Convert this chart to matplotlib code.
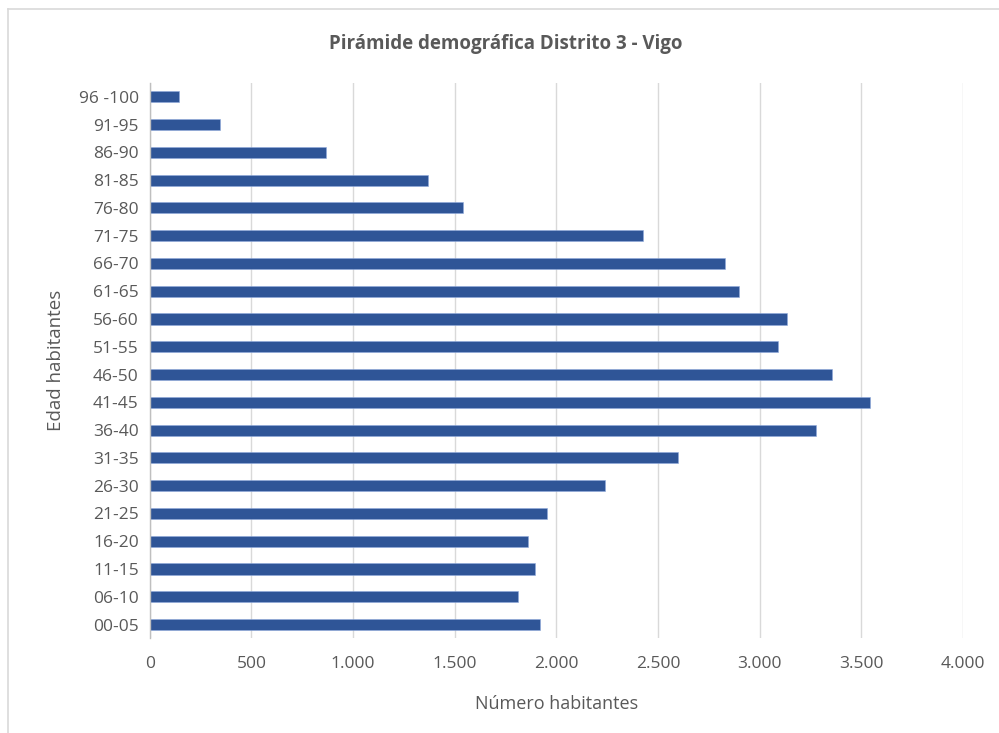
import matplotlib
matplotlib.use('Agg')
import matplotlib.pyplot as plt
from matplotlib.ticker import FuncFormatter
from matplotlib.lines import Line2D

# --- datos ---
grupos_edad = ['00-05', '06-10', '11-15', '16-20', '21-25', '26-30', '31-35',
               '36-40', '41-45', '46-50', '51-55', '56-60', '61-65', '66-70',
               '71-75', '76-80', '81-85', '86-90', '91-95', '96 -100']
habitantes = [1920, 1812, 1896, 1862, 1955, 2238, 2596,
              3277, 3543, 3356, 3092, 3135, 2896, 2827,
              2427, 1539, 1368, 865, 344, 141]
ticks_x = [0, 500, 1000, 1500, 2000, 2500, 3000, 3500, 4000]

AZUL = '#2F5597'
GRIS_TXT = '#595959'
GRIS_GRID = '#D9D9D9'

plt.rcParams['font.family'] = ['Open Sans', 'DejaVu Sans']

fig = plt.figure(figsize=(9.99, 7.33), dpi=100, facecolor='white')
ax = fig.add_axes([0.150, 0.129, 0.814, 0.758])

ax.barh(range(len(grupos_edad)), habitantes, height=0.40, color=AZUL,
        edgecolor='#8FAADC', linewidth=0.4, zorder=3)

ax.set_xlim(0, 4000)
ax.set_ylim(-0.5, len(grupos_edad) - 0.5)
ax.set_xticks(ticks_x)
ax.xaxis.set_major_formatter(FuncFormatter(lambda v, p: f'{int(v):,}'.replace(',', '.')))
ax.set_yticks(range(len(grupos_edad)))
ax.set_yticklabels(grupos_edad)

ax.grid(axis='x', color=GRIS_GRID, linewidth=1.0, zorder=0)
for s in ['top', 'right', 'bottom']:
    ax.spines[s].set_visible(False)
ax.spines['left'].set_color('#BFBFBF')
ax.spines['left'].set_linewidth(1.0)
ax.spines['left'].set_zorder(4)

ax.tick_params(axis='both', length=0, labelsize=12.5, labelcolor=GRIS_TXT)
ax.tick_params(axis='x', pad=13)
ax.tick_params(axis='y', pad=8)

ax.set_xlabel('Número habitantes', fontsize=13, color=GRIS_TXT, labelpad=16)
ax.set_ylabel('Edad habitantes', fontsize=13.5, color=GRIS_TXT, labelpad=10)

fig.text(0.506, 0.940, 'Pirámide demográfica Distrito 3 - Vigo', ha='center', va='center',
         fontsize=13.5, fontweight='bold', color=GRIS_TXT)

# borde del área del gráfico (sólo arriba e izquierda visibles)
fig.add_artist(Line2D([0.008, 0.008], [0.0, 0.988], transform=fig.transFigure,
                      color='#D9D9D9', linewidth=1.2))
fig.add_artist(Line2D([0.008, 1.0], [0.988, 0.988], transform=fig.transFigure,
                      color='#D9D9D9', linewidth=1.2))

fig.savefig('out.png', dpi=100, facecolor='white')
